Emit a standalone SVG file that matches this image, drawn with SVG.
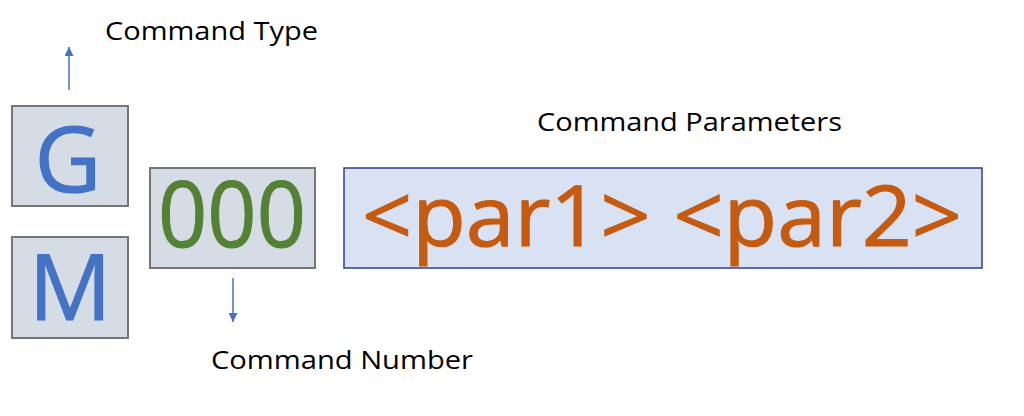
<svg xmlns="http://www.w3.org/2000/svg" width="1024" height="416" viewBox="0 0 1024 416">
<defs>
<style>
.lbl{font-family:"Open Sans","Liberation Sans",sans-serif;font-size:26px;fill:#000}
.box{fill:#D6DCE5;stroke:#767676;stroke-width:2}
.big{font-family:"Open Sans","Liberation Sans",sans-serif;text-anchor:middle;stroke-width:1.1}
.conn{stroke:#4472C4;stroke-width:1.5;fill:none}
</style>
<marker id="ah" viewBox="0 0 10 10" refX="10" refY="5" markerWidth="9" markerHeight="9" markerUnits="userSpaceOnUse" orient="auto">
<path d="M0,0 L10,5 L0,10 z" fill="#4472C4"/>
</marker>
</defs>
<rect width="1024" height="416" fill="#fff"/>
<g id="connectors">
<line class="conn" x1="69" y1="90" x2="69" y2="47" marker-end="url(#ah)"/>
<line class="conn" x1="233" y1="278" x2="233" y2="322" marker-end="url(#ah)"/>
</g>
<g id="label-type"><text class="lbl" x="105" y="40" textLength="213" lengthAdjust="spacingAndGlyphs">Command Type</text></g>
<g id="label-params"><text class="lbl" x="537" y="131" textLength="305" lengthAdjust="spacingAndGlyphs">Command Parameters</text></g>
<g id="label-number"><text class="lbl" x="211" y="369" textLength="262" lengthAdjust="spacingAndGlyphs">Command Number</text></g>
<g id="node-G">
<rect class="box" x="12" y="106" width="116" height="100"/>
<text class="big" x="68" y="192" font-size="92" fill="#4472C4" stroke="#4472C4">G</text>
</g>
<g id="node-M">
<rect class="box" x="12" y="237" width="116" height="101"/>
<text class="big" x="70" y="320" font-size="92" fill="#4472C4" stroke="#4472C4">M</text>
</g>
<g id="node-000">
<rect class="box" x="150" y="168" width="165" height="100"/>
<text class="big" x="232" y="247" font-size="92" fill="#548235" stroke="#548235" textLength="148" lengthAdjust="spacingAndGlyphs">000</text>
</g>
<g id="node-params">
<rect x="344" y="168" width="638" height="100" fill="#D9E2F3" stroke="#2F3D8E" stroke-width="1.5"/>
<text class="big" x="662" y="246" font-size="84" fill="#C55A11" stroke="#C55A11" textLength="600" lengthAdjust="spacingAndGlyphs">&lt;par1&gt; &lt;par2&gt;</text>
</g>
</svg>
